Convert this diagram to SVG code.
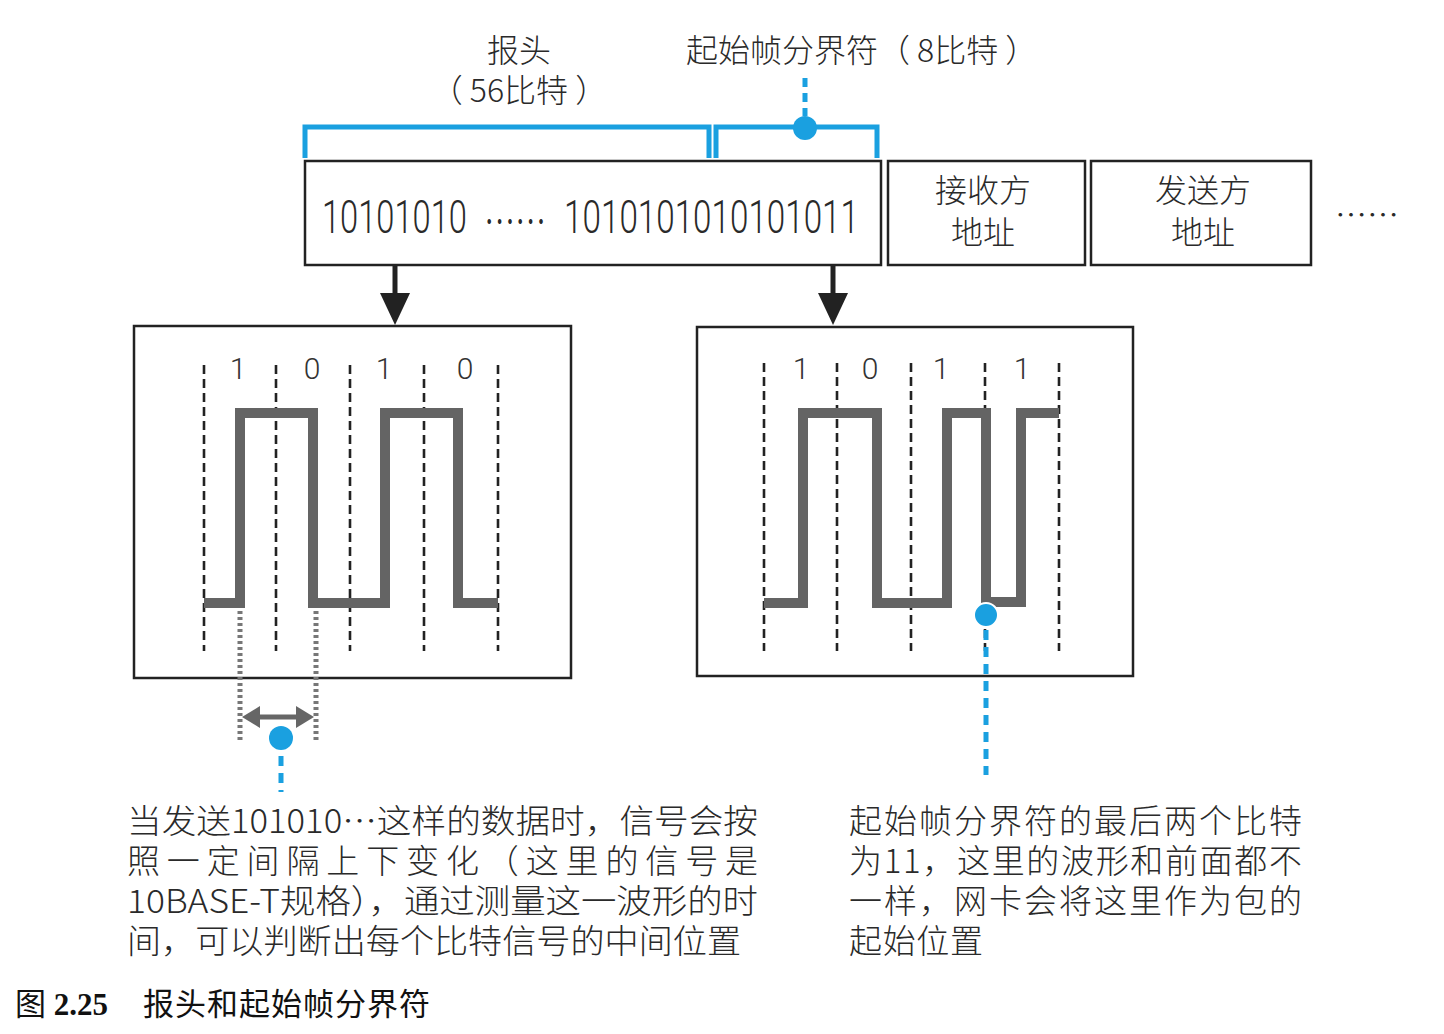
<svg xmlns="http://www.w3.org/2000/svg" width="1444" height="1034" viewBox="0 0 1444 1034">
  <style>
    .box { fill: #fff; stroke: #222; stroke-width: 2.5; }
    .cjk { font-family: "Noto Sans CJK SC", "Noto Sans", sans-serif; font-weight: 300; fill: #2a2a2a; }
    .num { font-family: Roboto, "Liberation Sans", sans-serif; font-weight: 300; fill: #2a2a2a; }
    .bit { font-family: Roboto, "Liberation Sans", sans-serif; font-weight: 300; font-size: 30px; fill: #333; text-anchor: middle; }
    .grid { stroke: #222; stroke-width: 2.6; stroke-dasharray: 9 5; fill: none; }
    .wave { stroke: #646464; stroke-width: 10; fill: none; stroke-linejoin: miter; }
    .blue { stroke: #1aa0e0; fill: none; }
    .dot { fill: #1aa0e0; }
    .gdot { stroke: #777; stroke-width: 5; stroke-dasharray: 3 3; fill: none; }
  </style>
  <rect width="1444" height="1034" fill="#fff"/>

  <!-- field labels above the frame -->
  <g id="label-preamble">
    <text class="cjk" x="519" y="62" font-size="32" text-anchor="middle">报头</text>
    <text class="cjk" x="519" y="102" font-size="32" text-anchor="middle">（ 56比特 ）</text>
  </g>
  <g id="label-sfd">
    <text class="cjk" x="686" y="62" font-size="32">起始帧分界符（ 8比特 ）</text>
  </g>

  <!-- frame fields -->
  <g id="field-preamble">
    <rect class="box" x="305" y="161" width="576" height="104"/>
    <!-- condensed digits: the whole line is squeezed horizontally -->
    <text class="num" font-size="46" transform="translate(322 233) scale(0.71 1)">
      <tspan x="0" y="0">10101010</tspan>
      <tspan x="228" y="5" font-family="Noto Sans CJK SC, sans-serif" font-size="44">……</tspan>
      <tspan x="341" y="0" font-size="46.8">1010101010101011</tspan>
    </text>
  </g>
  <g id="field-dst">
    <rect class="box" x="888" y="161" width="197" height="104"/>
    <text class="cjk" x="983" y="202" font-size="32" text-anchor="middle">接收方</text>
    <text class="cjk" x="983" y="244" font-size="32" text-anchor="middle">地址</text>
  </g>
  <g id="field-src">
    <rect class="box" x="1091" y="161" width="220" height="104"/>
    <text class="cjk" x="1203" y="202" font-size="32" text-anchor="middle">发送方</text>
    <text class="cjk" x="1203" y="244" font-size="32" text-anchor="middle">地址</text>
  </g>
  <g id="field-more">
    <text class="cjk" x="1335" y="226" font-size="30" textLength="64" lengthAdjust="spacingAndGlyphs">……</text>
  </g>

  <!-- waveform of the preamble bits -->
  <g id="wave-preamble">
    <rect class="box" x="134" y="326" width="437" height="352"/>
    <text class="bit" x="238" y="379">1</text>
    <text class="bit" x="312" y="379">0</text>
    <text class="bit" x="384" y="379">1</text>
    <text class="bit" x="465" y="379">0</text>
    <path class="grid" d="M204,365 V651 M276,365 V651 M350,365 V651 M424,365 V651 M498,365 V651"/>
    <path class="wave" d="M204,603 H240 V413 H313 V603 H385 V413 H458 V603 H498"/>
  </g>

  <!-- waveform of the start frame delimiter bits -->
  <g id="wave-sfd">
    <rect class="box" x="697" y="327" width="436" height="349"/>
    <text class="bit" x="801" y="379">1</text>
    <text class="bit" x="870" y="379">0</text>
    <text class="bit" x="941" y="379">1</text>
    <text class="bit" x="1022" y="379">1</text>
    <path class="grid" d="M764,363 V651 M837,363 V651 M911,363 V651 M985,363 V651 M1059,363 V651"/>
    <path class="wave" d="M764,603 H803 V413 H877 V603 H947 V413 H986 V602 H1021 V413 H1059"/>
  </g>

  <!-- explanatory notes -->
  <g id="note-preamble">
    <text class="cjk" x="127" y="833" font-size="33" textLength="631" lengthAdjust="spacingAndGlyphs">当发送101010…这样的数据时，信号会按</text>
    <text class="cjk" x="127" y="873" font-size="33" textLength="631" lengthAdjust="spacing">照一定间隔上下变化（这里的信号是</text>
    <text class="cjk" x="127" y="913" font-size="33" textLength="631" lengthAdjust="spacingAndGlyphs">10BASE-T规格），通过测量这一波形的时</text>
    <text class="cjk" x="127" y="953" font-size="33" textLength="614" lengthAdjust="spacingAndGlyphs">间，可以判断出每个比特信号的中间位置</text>
  </g>
  <g id="note-sfd">
    <text class="cjk" x="849" y="833" font-size="33" textLength="453" lengthAdjust="spacing">起始帧分界符的最后两个比特</text>
    <text class="cjk" x="849" y="873" font-size="33" textLength="453" lengthAdjust="spacing">为11，这里的波形和前面都不</text>
    <text class="cjk" x="849" y="913" font-size="33" textLength="453" lengthAdjust="spacing">一样，网卡会将这里作为包的</text>
    <text class="cjk" x="849" y="953" font-size="33" textLength="134" lengthAdjust="spacing">起始位置</text>
  </g>

  <!-- caption -->
  <g id="caption">
    <text x="15" y="1015" font-family="Liberation Serif, Noto Sans CJK SC, serif" font-size="31" fill="#111">图 <tspan font-weight="bold">2.25</tspan></text>
    <text x="143" y="1015" font-family="Liberation Serif, Noto Sans CJK SC, serif" font-size="31" fill="#111" textLength="287" lengthAdjust="spacing">报头和起始帧分界符</text>
  </g>

  <!-- connectors: brackets, arrows, callouts -->
  <g id="connectors">
    <path class="blue" stroke-width="5" d="M305,158 V127 H709 V158"/>
    <path class="blue" stroke-width="5" d="M716,158 V127 H877 V158"/>
    <line class="blue" stroke-width="5" stroke-dasharray="9 6" x1="805" y1="78" x2="805" y2="116"/>
    <circle class="dot" cx="805" cy="128" r="12"/>

    <line x1="395" y1="265" x2="395" y2="296" stroke="#222" stroke-width="5"/>
    <path d="M380,293 L410,293 L395,325 Z" fill="#222"/>
    <line x1="833" y1="265" x2="833" y2="296" stroke="#222" stroke-width="5"/>
    <path d="M818,293 L848,293 L833,325 Z" fill="#222"/>

    <path class="gdot" d="M240,611 V742 M316,611 V742"/>
    <line x1="256" y1="717" x2="300" y2="717" stroke="#666" stroke-width="5"/>
    <path d="M242,717 L260,706 L260,728 Z" fill="#666"/>
    <path d="M314,717 L296,706 L296,728 Z" fill="#666"/>
    <circle class="dot" cx="281" cy="738" r="12"/>
    <line class="blue" stroke-width="5" stroke-dasharray="10 7" x1="281" y1="756" x2="281" y2="792"/>

    <line class="blue" stroke-width="5" stroke-dasharray="10 7" x1="986" y1="630" x2="986" y2="775"/>
    <circle class="dot" cx="986" cy="615" r="12" stroke="#fff" stroke-width="2"/>
  </g>
</svg>
